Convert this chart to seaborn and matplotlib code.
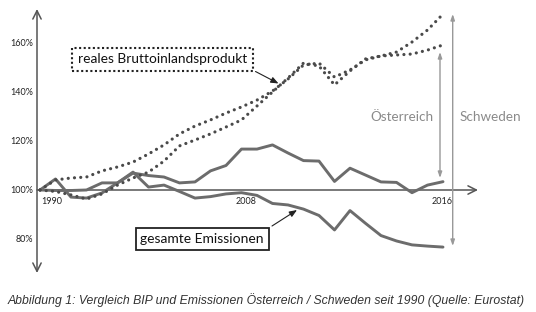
import matplotlib
matplotlib.use("Agg")
import matplotlib.pyplot as plt
import seaborn as sns

# ---- data (index 1990 = 100 %) ----
years = list(range(1990, 2017))
bip_oesterreich = [100, 104.1, 104.9, 105.3, 107.8, 109.4, 111.4, 114.7, 118.4, 122.9,
                   126.1, 128.6, 131.4, 133.9, 136.7, 140.4, 145.3, 151.0, 151.8, 146.1,
                   149.0, 153.1, 154.7, 155.1, 155.5, 157.1, 159.2]
bip_schweden = [100, 99.4, 98.0, 96.3, 98.4, 102.0, 104.9, 107.3, 111.8, 118.0,
                120.4, 122.9, 125.7, 128.6, 134.3, 140.0, 145.7, 151.8, 150.6, 142.9,
                148.6, 153.5, 154.7, 156.3, 160.4, 165.3, 171.8]
emi_oesterreich = [100, 104.5, 97.1, 96.7, 98.8, 102.9, 106.9, 105.9, 105.3, 102.9,
                   103.3, 107.8, 110.0, 116.7, 116.7, 118.4, 115.1, 112.0, 111.8, 103.5,
                   108.9, 106.1, 103.3, 103.1, 98.9, 102.0, 103.4]
emi_schweden = [100, 99.8, 99.8, 100, 102.9, 102.9, 107.3, 101.2, 102.0, 99.4,
                96.7, 97.3, 98.4, 98.9, 97.8, 94.5, 93.9, 92.2, 89.6, 83.7,
                91.6, 86.4, 81.4, 79.2, 77.6, 77.1, 76.7]
ytick_values = [80, 100, 120, 140, 160]
ytick_labels = ["80%", "100%", "120%", "140%", "160%"]
xtick_labels = ["1990", "2008", "2016"]
xtick_pos = [1990.76, 2003.29, 2015.94]

# ---- pixel -> data helpers (layout) ----
X0, DX, Y0, KY = 40.0, 15.5, 190.0, 2.45
def dx(px):
    return 1990 + (px - X0) / DX
def dy(py):
    return 100 + (Y0 - py) / KY

sns.set_style("white")
plt.rcParams['font.family'] = ['Lato', 'DejaVu Sans']

fig = plt.figure(figsize=(5.36, 3.12), dpi=100)
fig.patch.set_facecolor('white')
ax = fig.add_axes([0, 0, 1, 1])
ax.set_xlim(dx(0), dx(536))
ax.set_ylim(dy(312), dy(0))
for s in ax.spines.values():
    s.set_visible(False)
ax.spines['left'].set_position(('data', dx(37)))
ax.spines['bottom'].set_position(('data', 100))
ax.set_yticks(ytick_values)
ax.set_yticklabels(ytick_labels)
ax.set_xticks(xtick_pos)
ax.set_xticklabels(xtick_labels)
ax.tick_params(axis='y', length=0, pad=3, labelsize=6.5, labelcolor='#222')
ax.tick_params(axis='x', length=0, pad=5, labelsize=6.5, labelcolor='#222')
ax.grid(False)

axis_col = '#555555'
ax.annotate('', xy=(dx(478), 100), xytext=(dx(37), 100),
            arrowprops=dict(arrowstyle='->,head_length=0.6,head_width=0.3', color=axis_col, lw=1.1,
                            shrinkA=0, shrinkB=0), zorder=1)
ax.annotate('', xy=(dx(37), dy(9)), xytext=(dx(37), dy(273)),
            arrowprops=dict(arrowstyle='<->,head_length=0.6,head_width=0.3', color=axis_col, lw=1.1,
                            shrinkA=0, shrinkB=0), zorder=1)

emi_col = '#6c6c6c'
bip_col = '#4a4a4a'
dot = (0, (0.01, 1.95))
for vals in (emi_oesterreich, emi_schweden):
    sns.lineplot(x=years, y=vals, ax=ax, color=emi_col, lw=2.1, zorder=3,
                 solid_joinstyle='round', solid_capstyle='round')
for vals in (bip_oesterreich, bip_schweden):
    sns.lineplot(x=years, y=vals, ax=ax, color=bip_col, lw=2.3, zorder=4,
                 linestyle=dot, dash_capstyle='round')

# annotation boxes
ax.text(dx(162.4), dy(59.2), 'reales Bruttoinlandsprodukt', ha='center', va='center',
        fontsize=9.9, color='#111',
        bbox=dict(boxstyle='square,pad=0.4', fc='white', ec='#222', lw=1.5, ls=(0, (1, 1.2))),
        zorder=6)
ax.annotate('', xy=(dx(278.5), dy(83.5)), xytext=(dx(255.5), dy(71.5)),
            arrowprops=dict(arrowstyle='-|>,head_length=0.45,head_width=0.18', color='#222', lw=0.8,
                            shrinkA=0, shrinkB=0), zorder=6)

ax.text(dx(202.2), dy(238.9), 'gesamte Emissionen', ha='center', va='center',
        fontsize=10, color='#111',
        bbox=dict(boxstyle='square,pad=0.35', fc='white', ec='#222', lw=1.3),
        zorder=6)
ax.annotate('', xy=(dx(297), dy(210)), xytext=(dx(272), dy(226)),
            arrowprops=dict(arrowstyle='-|>,head_length=0.45,head_width=0.18', color='#222', lw=0.8,
                            shrinkA=0, shrinkB=0), zorder=6)

gray = '#8a8a8a'
ax.text(dx(402), dy(117), 'Österreich', ha='center', va='center', fontsize=9.7, color=gray)
ax.text(dx(490), dy(117), 'Schweden', ha='center', va='center', fontsize=9.7, color=gray)
ax.annotate('', xy=(dx(440), dy(52)), xytext=(dx(440), dy(178)),
            arrowprops=dict(arrowstyle='<|-|>,head_length=0.35,head_width=0.12', color='#999', lw=1.0,
                            shrinkA=0, shrinkB=0), zorder=2)
ax.annotate('', xy=(dx(452.7), dy(14)), xytext=(dx(452.7), dy(246)),
            arrowprops=dict(arrowstyle='<|-|>,head_length=0.35,head_width=0.12', color='#999', lw=1.0,
                            shrinkA=0, shrinkB=0), zorder=2)

ax.text(dx(8), dy(300), 'Abbildung 1: Vergleich BIP und Emissionen Österreich / Schweden seit 1990 (Quelle: Eurostat)',
        ha='left', va='center', fontsize=8.8, style='italic', color='#333',
        family=['Liberation Sans', 'DejaVu Sans'])

fig.savefig('out.png', dpi=100, facecolor='white')
